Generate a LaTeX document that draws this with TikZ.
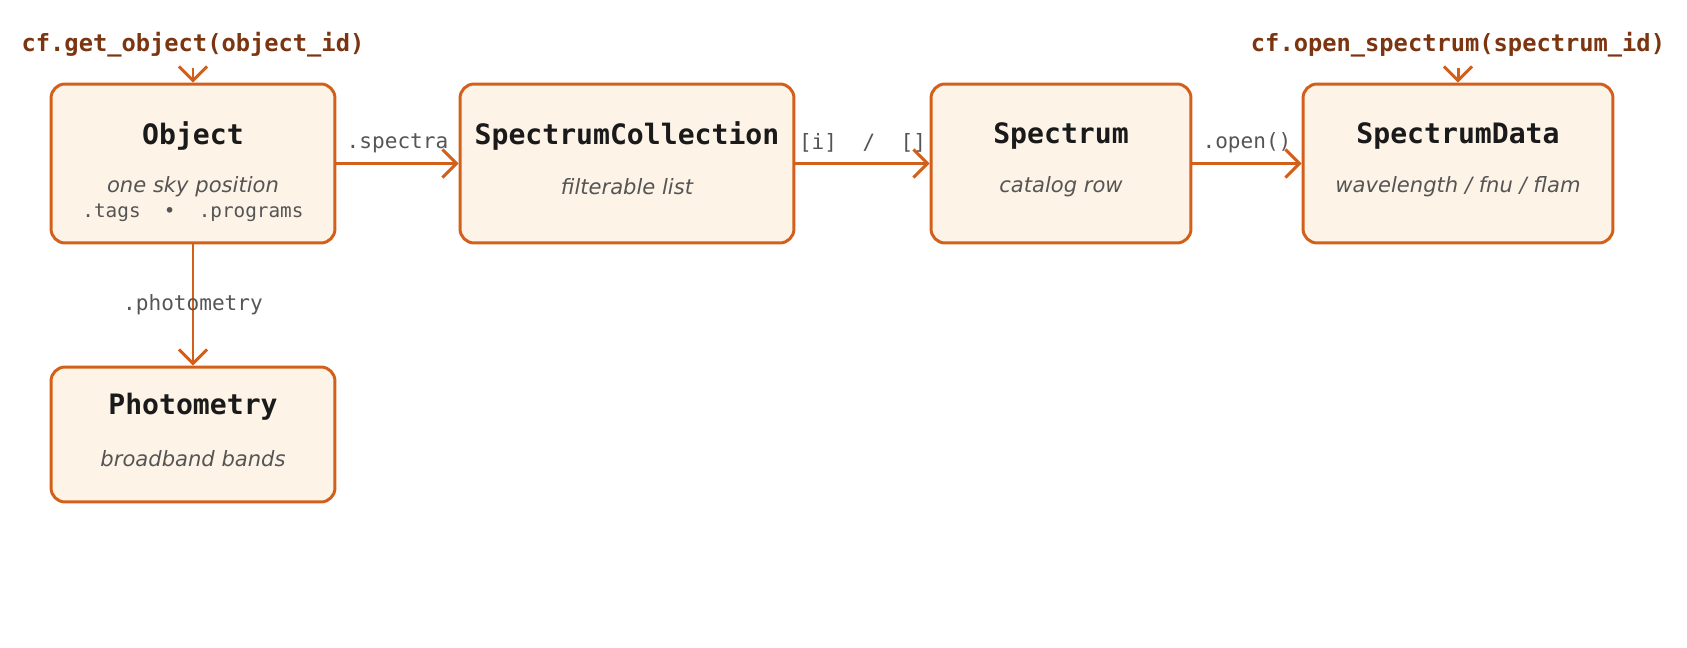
\documentclass[tikz,border=0pt]{standalone}
\usepackage{fontspec}
\setmainfont{DejaVu Sans}
\setmonofont{DejaVu Sans Mono}
\usetikzlibrary{arrows.meta}
\definecolor{org}{HTML}{D2601A}
\definecolor{boxfill}{HTML}{FDF3E7}
\definecolor{brn}{HTML}{7B3510}
\definecolor{gr}{HTML}{555555}
\definecolor{tt}{HTML}{1A1A1A}
\tikzset{
  box/.style={draw=org,fill=boxfill,line width=1.7pt,rounded corners=8pt,minimum height=#1},
  ttl/.style={text=tt,font=\ttfamily\bfseries\fontsize{16}{18}\selectfont},
  sub/.style={text=gr,font=\itshape\fontsize{12}{14}\selectfont},
  lab/.style={text=gr,font=\ttfamily\fontsize{12}{14}\selectfont},
  top/.style={text=brn,font=\ttfamily\bfseries\fontsize{13.5}{15}\selectfont},
  arr/.style={draw=org,line width=1.7pt,-{Straight Barb[length=8pt,width=16pt,line width=1.7pt]}}
}
\begin{document}
\begin{tikzpicture}[x=0.02cm,y=-0.02cm]
\useasboundingbox (0,0) rectangle (1687,648);
\node[box=3.18cm,minimum width=5.68cm] (obj) at (193,163.5) {};
\node[box=3.18cm,minimum width=6.68cm] (sc) at (627,163.5) {};
\node[box=3.18cm,minimum width=5.2cm] (sp) at (1061,163.5) {};
\node[box=3.18cm,minimum width=6.2cm] (sd) at (1458,163.5) {};
\node[box=2.7cm,minimum width=5.68cm] (ph) at (193,434.5) {};
\node[ttl] (t1) at (193,136) {Object};
\node[sub] (s1) at (193,187) {one sky position};
\node[lab,font=\ttfamily\fontsize{11}{13}\selectfont] (s1b) at (193,213) {.tags\ \ •\ \ .programs};
\node[ttl] (t2) at (627,136) {SpectrumCollection};
\node[sub] (s2) at (627,187) {filterable list};
\node[ttl] (t3) at (1061,136) {Spectrum};
\node[sub] (s3) at (1061,187) {catalog row};
\node[ttl] (t4) at (1458,136) {SpectrumData};
\node[sub] (s4) at (1458,187) {wavelength / fnu / flam};
\node[ttl] (t5) at (193,407) {Photometry};
\node[sub] (s5) at (193,459) {broadband bands};
\node[top] (q1) at (193,45) {cf.get\_object(object\_id)};
\node[top] (q2) at (1458,45) {cf.open\_spectrum(spectrum\_id)};
\coordinate (q1e) at (193,68);
\coordinate (q2e) at (1458,68);
\draw[arr] (q1e) -- (obj.north);
\draw[arr] (q2e) -- (sd.north);
\draw[arr] (obj.east) -- node[lab,above=2pt] (l1) {.spectra} (sc.west);
\draw[arr] (sc.east) -- node[lab,above=2pt] (l2) {[i]\ \ /\ \ []} (sp.west);
\draw[arr] (sp.east) -- node[lab,above=2pt] (l3) {.open()} (sd.west);
\draw[arr] (obj.south) -- (ph.north);
\node[lab] (l4) at (193,305) {.photometry};
\end{tikzpicture}
\end{document}
